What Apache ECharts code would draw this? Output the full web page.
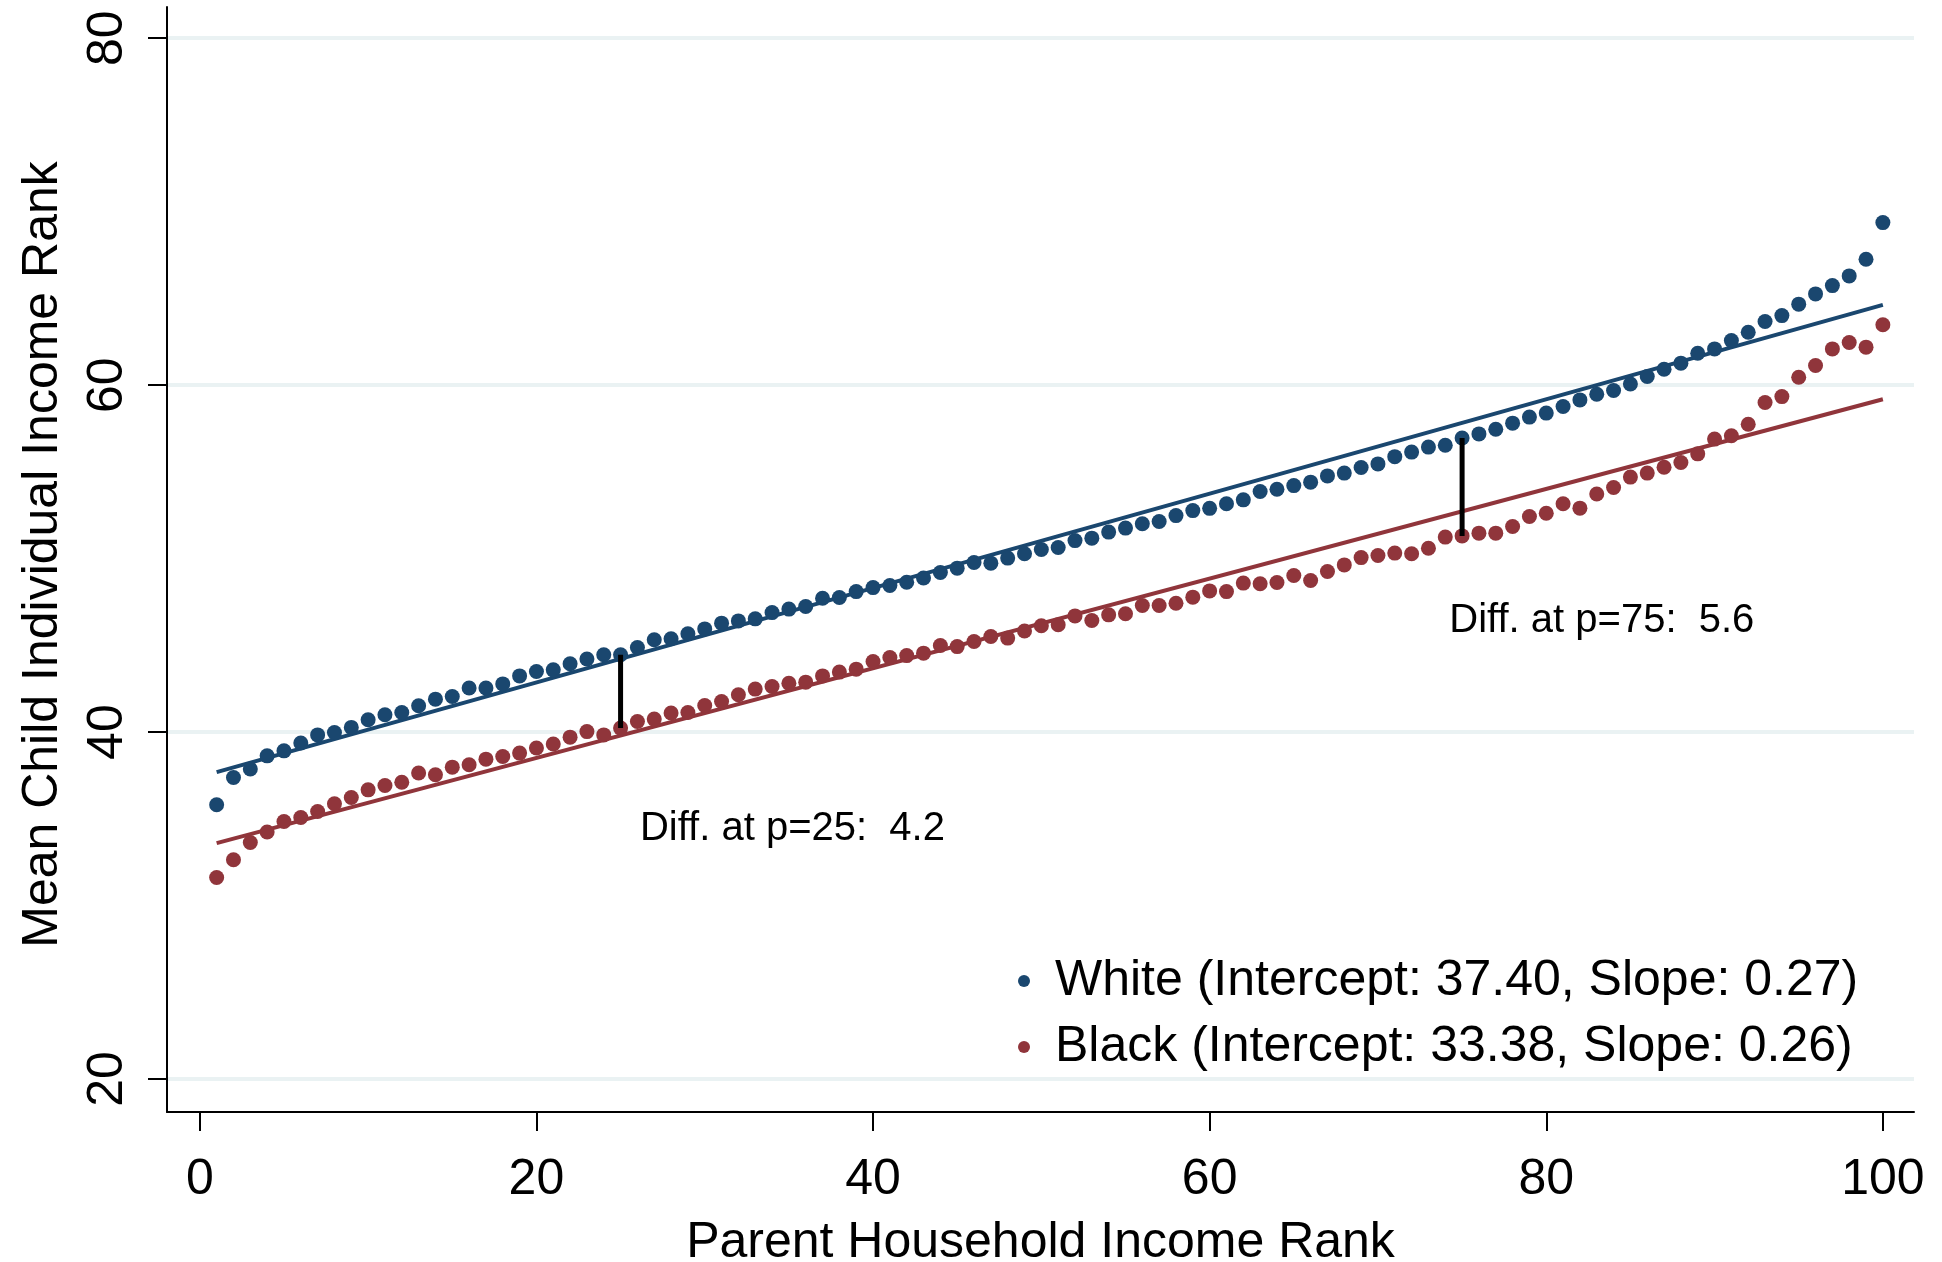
<!DOCTYPE html>
<html>
<head>
<meta charset="utf-8">
<script src="https://cdn.jsdelivr.net/npm/echarts@6/dist/echarts.min.js"></script>
<style>
html,body{margin:0;padding:0;background:#fff;}
#chart{width:1942px;height:1262px;}
</style>
</head>
<body>
<div id="chart"></div>
<script>
// ---- data ----
const parentRank = [1,2,3,4,5,6,7,8,9,10,11,12,13,14,15,16,17,18,19,20,21,22,23,24,25,26,27,28,29,30,31,32,33,34,35,36,37,38,39,40,41,42,43,44,45,46,47,48,49,50,51,52,53,54,55,56,57,58,59,60,61,62,63,64,65,66,67,68,69,70,71,72,73,74,75,76,77,78,79,80,81,82,83,84,85,86,87,88,89,90,91,92,93,94,95,96,97,98,99,100];
const whiteRank = [35.81,37.38,37.87,38.63,38.92,39.37,39.84,39.98,40.27,40.71,
  41.00,41.13,41.52,41.90,42.05,42.54,42.54,42.78,43.24,43.49,
  43.59,43.94,44.21,44.46,44.46,44.88,45.32,45.38,45.67,45.95,
  46.28,46.41,46.53,46.89,47.09,47.24,47.72,47.76,48.10,48.33,
  48.45,48.64,48.88,49.20,49.45,49.78,49.74,50.03,50.28,50.53,
  50.64,51.04,51.18,51.53,51.76,52.01,52.14,52.48,52.77,52.90,
  53.16,53.39,53.87,54.00,54.21,54.41,54.77,54.93,55.25,55.46,
  55.88,56.14,56.43,56.54,56.95,57.19,57.46,57.81,58.16,58.39,
  58.77,59.15,59.48,59.69,60.07,60.50,60.92,61.27,61.84,62.09,
  62.57,63.05,63.67,64.01,64.67,65.26,65.74,66.30,67.26,69.37];
const blackRank = [31.62,32.64,33.64,34.24,34.85,35.08,35.42,35.87,36.23,36.67,
  36.92,37.11,37.64,37.54,37.98,38.12,38.44,38.59,38.79,39.08,
  39.31,39.71,40.03,39.84,40.23,40.61,40.75,41.10,41.13,41.53,
  41.76,42.15,42.48,42.63,42.82,42.88,43.24,43.46,43.63,44.07,
  44.30,44.41,44.55,44.99,44.93,45.22,45.51,45.42,45.83,46.13,
  46.19,46.70,46.43,46.76,46.82,47.30,47.30,47.43,47.78,48.14,
  48.10,48.59,48.55,48.62,49.03,48.74,49.26,49.64,50.06,50.18,
  50.32,50.28,50.60,51.24,51.31,51.47,51.47,51.85,52.43,52.62,
  53.16,52.91,53.73,54.10,54.70,54.93,55.27,55.54,56.04,56.89,
  57.08,57.75,59.00,59.34,60.46,61.13,62.09,62.46,62.19,63.48];
const whiteFitX = [1, 100];
const whiteFitY = [37.69, 64.63];
const blackFitX = [1, 100];
const blackFitY = [33.60, 59.19];
const diffAt = [25, 75];
const diffText = ['Diff. at p=25:  4.2', 'Diff. at p=75:  5.6'];
const legendLabels = ['White (Intercept: 37.40, Slope: 0.27)', 'Black (Intercept: 33.38, Slope: 0.26)'];
const xTicks = [0, 20, 40, 60, 80, 100];
const yTicks = [20, 40, 60, 80];
const xTitle = 'Parent Household Income Rank';
const yTitle = 'Mean Child Individual Income Rank';

// ---- build chart ----
const FONT = '"Liberation Sans", Arial, Helvetica, sans-serif';
const NAVY = '#1a476f';
const MAROON = '#90353b';

const whitePts = parentRank.map((p, i) => [p, whiteRank[i]]);
const blackPts = parentRank.map((p, i) => [p, blackRank[i]]);
const whiteFit = whiteFitX.map((x, i) => [x, whiteFitY[i]]);
const blackFit = blackFitX.map((x, i) => [x, blackFitY[i]]);

const diffSeries = diffAt.map((p, k) => {
  const i = parentRank.indexOf(p);
  return {
    type: 'line', name: 'diff' + k, silent: true,
    data: [[p, blackRank[i]], [p, whiteRank[i]]],
    symbol: 'none', z: 5,
    lineStyle: { color: '#000', width: 5 }
  };
});

const annoPos = [[26.15, 34.39], [74.24, 46.38]];

const chart = echarts.init(document.getElementById('chart'), null, { renderer: 'canvas' });
chart.setOption({
  animation: false,
  backgroundColor: '#fff',
  textStyle: { fontFamily: FONT },
  grid: { left: 167, right: 28, top: 7, bottom: 150, containLabel: false, outerBoundsMode: 'none' },
  xAxis: {
    type: 'value', min: -1.95, max: 101.85,
    name: xTitle, nameLocation: 'middle', nameGap: 106,
    nameTextStyle: { fontSize: 50, color: '#000', fontFamily: FONT },
    axisLine: { show: true, onZero: false, lineStyle: { color: '#000', width: 2 } },
    axisTick: { show: true, length: 19, customValues: xTicks, lineStyle: { color: '#000', width: 2 } },
    axisLabel: { customValues: xTicks, fontSize: 50, color: '#000', margin: 43, fontFamily: FONT },
    splitLine: { show: false }
  },
  yAxis: {
    type: 'value', min: 18.1, max: 81.8,
    name: yTitle, nameLocation: 'middle', nameGap: 99, nameRotate: 90,
    nameTextStyle: { fontSize: 50, color: '#000', fontFamily: FONT, padding: [0, 0, 0, 10] },
    axisLine: { show: true, onZero: false, lineStyle: { color: '#000', width: 2 } },
    axisTick: { show: true, length: 19, customValues: yTicks, lineStyle: { color: '#000', width: 2 } },
    axisLabel: { customValues: yTicks, fontSize: 50, color: '#000', margin: 34, rotate: 90, fontFamily: FONT },
    splitLine: { show: true, lineStyle: { color: '#eaf2f3', width: 4 } }
  },
  legend: {
    orient: 'vertical', left: 1013, top: 951,
    data: legendLabels, icon: 'circle',
    itemWidth: 12, itemHeight: 12, itemGap: 16,
    textStyle: { fontSize: 50, color: '#000', lineHeight: 50, fontFamily: FONT, padding: [0, 0, 0, 20] }
  },
  series: [
    { type: 'line', name: 'whiteFit', data: whiteFit, symbol: 'none', silent: true, z: 2,
      lineStyle: { color: NAVY, width: 4 } },
    { type: 'line', name: 'blackFit', data: blackFit, symbol: 'none', silent: true, z: 2,
      lineStyle: { color: MAROON, width: 4 } },
    { type: 'scatter', name: legendLabels[0], data: whitePts, symbol: 'circle', symbolSize: 15, z: 3,
      itemStyle: { color: NAVY, opacity: 1 } },
    { type: 'scatter', name: legendLabels[1], data: blackPts, symbol: 'circle', symbolSize: 15, z: 3,
      itemStyle: { color: MAROON, opacity: 1 } },
    ...diffSeries,
    { type: 'scatter', name: 'annotations', silent: true, symbolSize: 0, z: 6,
      itemStyle: { opacity: 1 },
      data: annoPos.map((p, k) => ({ value: p, label: { formatter: diffText[k] } })),
      label: { show: true, position: 'right', distance: 0, fontSize: 40, color: '#000', opacity: 1, fontFamily: FONT } }
  ]
});
</script>
</body>
</html>
